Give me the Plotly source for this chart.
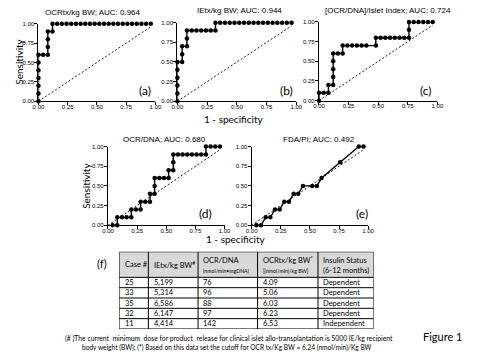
import plotly.graph_objects as go

W, H = 480, 360

# ---------------- ROC data (1 - specificity, sensitivity) ----------------
a_fpr = [0, 0, 0, 0, 0, 0, 0, 0.04, 0.08, 0.08, 0.08, 0.08, 0.12, 0.12,
         0.16, 0.20, 0.24, 0.28, 0.32, 0.36, 0.40, 0.44, 0.48, 0.52, 0.56,
         0.60, 0.64, 0.68, 0.72, 0.76, 0.80, 0.84, 0.88, 0.92, 0.96]
a_sens = [0, 0.1, 0.2, 0.3, 0.4, 0.5, 0.6, 0.6, 0.6, 0.7, 0.8, 0.9, 0.9, 1.0,
          1.0, 1.0, 1.0, 1.0, 1.0, 1.0, 1.0, 1.0, 1.0, 1.0, 1.0,
          1.0, 1.0, 1.0, 1.0, 1.0, 1.0, 1.0, 1.0, 1.0, 1.0]

b_fpr = [0, 0, 0, 0, 0, 0, 0.04, 0.04, 0.04, 0.08, 0.08, 0.08, 0.12, 0.16,
         0.20, 0.24, 0.28, 0.32, 0.32, 0.36, 0.40, 0.44, 0.48, 0.52, 0.56,
         0.60, 0.64, 0.68, 0.72, 0.76, 0.80, 0.84, 0.88, 0.92, 0.96]
b_sens = [0, 0.1, 0.2, 0.3, 0.4, 0.5, 0.5, 0.6, 0.7, 0.7, 0.8, 0.9, 0.9, 0.9,
          0.9, 0.9, 0.9, 0.9, 1.0, 1.0, 1.0, 1.0, 1.0, 1.0, 1.0,
          1.0, 1.0, 1.0, 1.0, 1.0, 1.0, 1.0, 1.0, 1.0, 1.0]

c_fpr = [0, 0, 0.04, 0.08, 0.08, 0.12, 0.12, 0.12, 0.12, 0.12, 0.16, 0.20,
         0.20, 0.24, 0.28, 0.32, 0.36, 0.40, 0.48, 0.48, 0.52, 0.56, 0.60,
         0.64, 0.68, 0.72, 0.76, 0.76, 0.76, 0.80, 0.84, 0.88, 0.92, 0.96]
c_sens = [0, 0.1, 0.1, 0.1, 0.2, 0.2, 0.3, 0.4, 0.5, 0.6, 0.6, 0.6,
          0.7, 0.7, 0.7, 0.7, 0.7, 0.7, 0.7, 0.8, 0.8, 0.8, 0.8,
          0.8, 0.8, 0.8, 0.8, 0.9, 1.0, 1.0, 1.0, 1.0, 1.0, 1.0]

d_fpr = [0.04, 0.08, 0.08, 0.12, 0.16, 0.20, 0.20, 0.24, 0.28, 0.28, 0.32,
         0.36, 0.36, 0.40, 0.40, 0.40, 0.44, 0.48, 0.52, 0.52, 0.56, 0.56,
         0.56, 0.60, 0.64, 0.68, 0.72, 0.76, 0.80, 0.84, 0.84, 0.88, 0.92, 0.96]
d_sens = [0, 0, 0.1, 0.1, 0.1, 0.1, 0.2, 0.2, 0.2, 0.3, 0.3,
          0.3, 0.4, 0.4, 0.5, 0.6, 0.6, 0.6, 0.6, 0.7, 0.7, 0.8,
          0.9, 0.9, 0.9, 0.9, 0.9, 0.9, 0.9, 0.9, 1.0, 1.0, 1.0, 1.0]

e_fpr = [0.04, 0.08, 0.12, 0.16, 0.20, 0.24, 0.28, 0.32, 0.36, 0.40, 0.44,
         0.52, 0.56, 0.60, 0.76, 0.92, 0.96]
e_sens = [0, 0, 0.1, 0.1, 0.2, 0.2, 0.3, 0.3, 0.4, 0.4, 0.5,
          0.5, 0.5, 0.6, 0.8, 1.0, 1.0]

identity_x = [0, 0.96]
identity_y = [0, 0.96]

titles = ["OCRtx/kg BW; AUC: 0.964", "IEtx/kg BW; AUC: 0.944",
          "[OCR/DNA]/Islet Index; AUC: 0.724", "OCR/DNA; AUC: 0.680",
          "FDA/PI; AUC: 0.492"]
tags = ["(a)", "(b)", "(c)", "(d)", "(e)"]
tick_vals = [0, 0.25, 0.5, 0.75, 1.0]
tick_text = ["0.00", "0.25", "0.50", "0.75", "1.00"]

# ---------------- table data ----------------
head_main = ["Case #", "IEtx/kg BW<sup>#</sup>", "OCR/DNA",
             "OCRtx/kg BW<sup>*</sup>", "Insulin Status"]
head_sub = ["", "", "(nmol/min\u2022mgDNA)", "[(nmol/min)/kg BW]", "(6-12 months)"]
case_no = ["25", "33", "35", "32", "11"]
ietx = ["5,199", "5,314", "6,586", "6,147", "4,414"]
ocr_dna = ["76", "96", "88", "97", "142"]
ocrtx = ["4.09", "5.06", "6.03", "6.23", "6.53"]
insulin = ["Dependent", "Dependent", "Dependent", "Dependent", "Independent"]

foot1 = ("(# )The current  minimum  dose for product  release for clinical islet "
         "allo-transplantation is 5000 IE/kg recipient")
foot2 = ("body weight (BW); (*) Based on this data set the cutoff for OCR tx/Kg BW "
         "= 6.24 (nmol/min)/Kg BW")

# ---------------- layout helpers ----------------
ARIAL = "Liberation Sans, Arial, sans-serif"
SOFT = "Lato, Liberation Sans, sans-serif"

fig = go.Figure()

panels = [
    dict(x=a_fpr, y=a_sens, box=(33.3, 153.3, 21.0, 100.0), tpos=(89, 9.5), gpos=(143, 89)),
    dict(x=b_fpr, y=b_sens, box=(175.8, 297.8, 20.0, 100.0), tpos=(239, 8), gpos=(288, 89)),
    dict(x=c_fpr, y=c_sens, box=(321.0, 442.5, 19.3, 99.3), tpos=(392, 8), gpos=(431, 89)),
    dict(x=d_fpr, y=d_sens, box=(104.6, 224.2, 146.0, 226.0), tpos=(163, 138.5), gpos=(205, 214)),
    dict(x=e_fpr, y=e_sens, box=(252.0, 371.4, 146.0, 226.0), tpos=(321, 138.5), gpos=(365, 214)),
]

annotations = []
for i, p in enumerate(panels, start=1):
    s = "" if i == 1 else str(i)
    fig.add_trace(go.Scatter(
        x=identity_x, y=identity_y, mode="lines", xaxis="x" + s, yaxis="y" + s,
        line=dict(color="black", width=0.9, dash="2px,2px"),
        showlegend=False, hoverinfo="skip", cliponaxis=False))
    fig.add_trace(go.Scatter(
        x=p["x"], y=p["y"], mode="lines+markers", xaxis="x" + s, yaxis="y" + s,
        line=dict(color="black", width=1.4), marker=dict(color="black", size=4.5),
        showlegend=False, cliponaxis=False))
    l, r, t, b = p["box"]
    common = dict(range=[0, 1], showline=True, linecolor="black", linewidth=1.3,
                  ticks="outside", ticklen=3, tickwidth=1, tickcolor="black",
                  tickvals=tick_vals, ticktext=tick_text, showgrid=False,
                  zeroline=False, fixedrange=True,
                  tickfont=dict(family=ARIAL, size=6, color="black"))
    fig.update_layout(**{
        "xaxis" + s: dict(domain=[l / W, r / W], anchor="y" + s, ticklabelstandoff=-4, **common),
        "yaxis" + s: dict(domain=[1 - b / H, 1 - t / H], anchor="x" + s, ticklabelstandoff=-1, **common),
    })
    tx, ty = p["tpos"]
    annotations.append(dict(text=titles[i - 1], x=tx / W, y=1 - ty / H, xref="paper",
                            yref="paper", showarrow=False, xanchor="center", yanchor="middle",
                            font=dict(family=ARIAL, size=8, color="black")))
    gx, gy = p["gpos"]
    annotations.append(dict(text=tags[i - 1], x=gx / W, y=1 - gy / H, xref="paper",
                            yref="paper", showarrow=False, xanchor="center", yanchor="middle",
                            font=dict(family=SOFT, size=12, color="black")))

# axis titles
for (x, y) in [(13, 60), (82, 186)]:
    annotations.append(dict(text="Sensitivity", x=x / W, y=1 - y / H, xref="paper", yref="paper",
                            showarrow=False, textangle=-90, xanchor="center", yanchor="middle",
                            font=dict(family=SOFT, size=10, color="black")))
for (x, y) in [(234, 117.5), (236, 240)]:
    annotations.append(dict(text="1 - specificity", x=x / W, y=1 - y / H, xref="paper",
                            yref="paper", showarrow=False, xanchor="center", yanchor="middle",
                            font=dict(family=SOFT, size=10, color="black")))

# ---------------- table on its own hidden axis ----------------
col_w = [30, 51, 61, 62, 57]
head_h = 26.0
row_h = 10.5
n_rows = len(case_no)
tot_w = sum(col_w)
tot_h = head_h + n_rows * row_h
tab_left, tab_top = 116.0, 253.0
fig.update_layout(
    xaxis6=dict(domain=[tab_left / W, (tab_left + tot_w) / W], range=[0, tot_w],
                visible=False, fixedrange=True, anchor="y6"),
    yaxis6=dict(domain=[1 - (tab_top + tot_h) / H, 1 - tab_top / H], range=[tot_h, 0],
                visible=False, fixedrange=True, anchor="x6"),
)
shapes = []
shapes.append(dict(type="rect", xref="x6", yref="y6", x0=0, x1=tot_w, y0=0, y1=head_h,
                   fillcolor="#d9d9d9", line=dict(width=0), layer="below"))
edges = [0]
for w in col_w:
    edges.append(edges[-1] + w)
for e in edges:
    shapes.append(dict(type="line", xref="x6", yref="y6", x0=e, x1=e, y0=0, y1=tot_h,
                       line=dict(color="black", width=1)))
hlines = [0, head_h] + [head_h + (k + 1) * row_h for k in range(n_rows)]
for h in hlines:
    shapes.append(dict(type="line", xref="x6", yref="y6", x0=0, x1=tot_w, y0=h, y1=h,
                       line=dict(color="black", width=1)))

pad = 3.5
sub_sizes = [5.5, 5.5, 5.2, 5.2, 7.5]
for j in range(len(col_w)):
    if head_sub[j]:
        annotations.append(dict(text=head_main[j], x=edges[j] + pad, y=8.5, xref="x6", yref="y6",
                                showarrow=False, xanchor="left", yanchor="middle",
                                font=dict(family=SOFT, size=7.5, color="black")))
        annotations.append(dict(text=head_sub[j], x=edges[j] + pad, y=19.5, xref="x6", yref="y6",
                                showarrow=False, xanchor="left", yanchor="middle",
                                font=dict(family=SOFT, size=sub_sizes[j], color="black")))
    else:
        annotations.append(dict(text=head_main[j], x=edges[j] + pad, y=13, xref="x6", yref="y6",
                                showarrow=False, xanchor="left", yanchor="middle",
                                font=dict(family=SOFT, size=7.5, color="black")))

columns = [case_no, ietx, ocr_dna, ocrtx, insulin]
for j, col in enumerate(columns):
    for k, val in enumerate(col):
        annotations.append(dict(text=val, x=edges[j] + pad, y=head_h + (k + 0.5) * row_h,
                                xref="x6", yref="y6", showarrow=False, xanchor="left",
                                yanchor="middle", font=dict(family=SOFT, size=7.5, color="black")))

annotations.append(dict(text="(f)", x=98 / W, y=1 - 265 / H, xref="paper", yref="paper",
                        showarrow=False, xanchor="center", yanchor="middle",
                        font=dict(family=SOFT, size=11, color="black")))
annotations.append(dict(text=foot1, x=58 / W, y=1 - 341 / H, xref="paper", yref="paper",
                        showarrow=False, xanchor="left", yanchor="middle",
                        font=dict(family=SOFT, size=6.8, color="black")))
annotations.append(dict(text=foot2, x=76 / W, y=1 - 350.5 / H, xref="paper", yref="paper",
                        showarrow=False, xanchor="left", yanchor="middle",
                        font=dict(family=SOFT, size=6.6, color="black")))
annotations.append(dict(text="Figure 1", x=426 / W, y=1 - 339 / H, xref="paper", yref="paper",
                        showarrow=False, xanchor="left", yanchor="middle",
                        font=dict(family=SOFT, size=11, color="black")))

fig.update_layout(width=W, height=H, autosize=False,
                  margin=dict(l=0, r=0, t=0, b=0),
                  paper_bgcolor="white", plot_bgcolor="white",
                  showlegend=False, annotations=annotations, shapes=shapes)

fig.write_html("out.html", config={"displayModeBar": False},
               post_script="document.body.style.margin='0px';")
